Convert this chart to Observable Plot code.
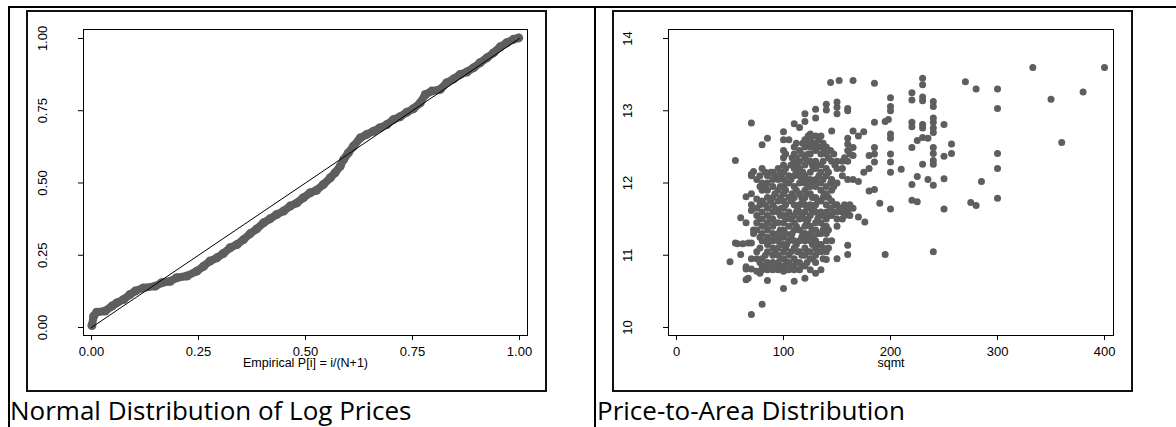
<!DOCTYPE html>
<html>
<head>
<meta charset="utf-8">
<script src="https://cdn.jsdelivr.net/npm/d3@7"></script>
<script src="https://cdn.jsdelivr.net/npm/@observablehq/plot@0.6"></script>
<style>
  html, body { margin: 0; padding: 0; background: #fff; }
  body { width: 1176px; height: 427px; position: relative; overflow: hidden; }
  .rule { position: absolute; background: #000; }
  .box { position: absolute; border: 2px solid #111; box-sizing: border-box; pointer-events: none; }
  .chart { position: absolute; }
  .caption { position: absolute; font-family: "Open Sans", sans-serif; font-size: 26px; line-height: 26px; color: #000; white-space: nowrap; }
</style>
</head>
<body>
<div class="rule" style="left:8px; top:6px; width:1168px; height:2px;"></div>
<div class="rule" style="left:8px; top:6px; width:2px; height:421px;"></div>
<div class="rule" style="left:594px; top:6px; width:2px; height:421px;"></div>
<div id="c1" class="chart" style="left:26px; top:10px;"></div>
<div id="c2" class="chart" style="left:612px; top:10px;"></div>
<div class="box" style="left:26px; top:10px; width:521px; height:382px;"></div>
<div class="box" style="left:612px; top:10px; width:521px; height:382px;"></div>
<div class="caption" style="left:10px; top:397px;">Normal Distribution of Log Prices</div>
<div class="caption" style="left:597px; top:397px;">Price-to-Area Distribution</div>
<script>
// ---- Chart 1: P-P plot (standardized normal probability) ----
const ppEmpirical = [0.001,0.005,0.012,0.032,0.048,0.059,0.075,0.090,0.102,0.121,0.149,0.164,0.184,0.199,0.223,0.246,0.262,0.277,0.293,0.308,0.324,0.340,0.355,0.371,0.386,0.402,0.417,0.433,0.449,0.464,0.480,0.495,0.511,0.526,0.542,0.558,0.569,0.581,0.589,0.600,0.612,0.628,0.643,0.659,0.674,0.690,0.706,0.721,0.737,0.752,0.768,0.780,0.795,0.815,0.830,0.846,0.861,0.877,0.893,0.908,0.924,0.939,0.955,0.970,0.986,0.998];
const ppNormal = [0.007,0.039,0.053,0.057,0.074,0.085,0.097,0.114,0.126,0.137,0.143,0.155,0.160,0.172,0.178,0.195,0.212,0.230,0.241,0.256,0.276,0.287,0.304,0.325,0.341,0.362,0.376,0.391,0.403,0.420,0.431,0.449,0.466,0.475,0.495,0.518,0.535,0.558,0.581,0.604,0.627,0.656,0.668,0.679,0.691,0.702,0.720,0.729,0.745,0.757,0.777,0.806,0.818,0.824,0.847,0.860,0.875,0.884,0.899,0.916,0.933,0.950,0.971,0.985,0.997,1.002];
const ppTicks = [0, 0.25, 0.5, 0.75, 1];
const ppRef = [0, 1];
const ppXLabel = "Empirical P[i] = i/(N+1)";

// ---- Chart 2: scatter of log price vs sqmt ----
const areaValues = [50,55,57,60,62,65,67,70,72,75,78,80,83,85,88,90,92,95,97,98,100,102,103,105,107,108,110,112,113,115,117,118,120,122,123,125,127,128,130,132,133,135,137,138,140,142,144,145,147,148,150,152,155,157,160,162,165,170,175,176,180,185,190,195,198,200,210,220,225,230,235,240,250,257,270,275,280,285,300,333,350,360,380,400];
const logPriceByArea = [
  [10.91],
  [12.31, 11.17],
  [11.16],
  [11.52, 11.01],
  [11.16],
  [11.81, 11.45, 10.81, 10.66, 10.84],
  [11.17, 10.68],
  [12.83, 12.12, 12.10, 11.85, 11.70, 11.62, 11.17, 10.95, 10.81, 10.18],
  [12.16, 11.35, 11.30],
  [12.05, 11.78, 11.65, 11.55, 11.45, 11.35, 11.05, 10.95, 10.78],
  [12.10, 11.95, 11.70, 11.50, 11.25, 11.10, 10.90, 10.75],
  [12.53, 12.20, 12.00, 11.90, 11.75, 11.60, 11.50, 11.40, 11.30, 11.20, 10.95, 10.85, 10.80, 10.32],
  [12.15, 11.95, 11.70, 11.40, 11.20, 11.00, 10.85],
  [12.62, 12.10, 12.00, 11.90, 11.80, 11.65, 11.55, 11.45, 11.35, 11.25, 11.15, 11.05, 10.90, 10.80, 10.65],
  [12.15, 11.75, 11.50, 11.20, 10.88],
  [12.15, 12.05, 11.95, 11.80, 11.70, 11.60, 11.50, 11.40, 11.30, 11.20, 11.10, 11.00, 10.90, 10.80],
  [12.10, 11.85, 11.65, 11.45, 11.25, 11.05, 10.85],
  [12.20, 12.05, 11.90, 11.75, 11.60, 11.45, 11.30, 11.20, 11.10, 11.00, 10.90, 10.80],
  [12.15, 11.95, 11.80, 11.55, 11.35, 11.15, 10.85],
  [12.10, 11.65, 11.25, 10.95],
  [12.71, 12.60, 12.45, 12.35, 12.25, 12.15, 12.05, 11.95, 11.85, 11.75, 11.65, 11.55, 11.45, 11.35, 11.25, 11.15, 11.05, 10.95, 10.85, 10.78, 10.54],
  [12.40, 12.20, 11.90, 11.70, 11.50, 11.30, 11.10, 10.80],
  [12.00, 11.55, 11.15, 10.90],
  [12.60, 12.10, 12.00, 11.80, 11.60, 11.40, 11.20, 11.00, 10.90, 10.80],
  [12.25, 12.05, 11.75, 11.50, 11.25, 11.05, 10.85],
  [12.35, 11.85, 11.30],
  [12.82, 12.50, 12.40, 12.30, 12.20, 12.10, 11.95, 11.80, 11.70, 11.55, 11.45, 11.35, 11.20, 11.10, 10.95, 10.85, 10.80, 10.64],
  [12.55, 12.35, 12.15, 11.90, 11.60, 11.40, 11.15, 10.90],
  [12.25, 11.65, 11.05],
  [12.77, 12.45, 12.30, 12.20, 12.10, 12.00, 11.85, 11.70, 11.60, 11.50, 11.35, 11.20, 11.05, 10.90, 10.80],
  [12.40, 12.05, 11.80, 11.55, 11.25, 11.00, 10.85],
  [12.55, 12.15, 11.75, 11.30],
  [12.96, 12.85, 12.60, 12.50, 12.35, 12.25, 12.10, 12.00, 11.90, 11.80, 11.70, 11.60, 11.50, 11.40, 11.30, 11.20, 11.10, 11.00, 10.85, 10.68],
  [12.55, 12.30, 12.05, 11.85, 11.65, 11.45, 11.25, 11.05, 10.90],
  [12.65, 12.40, 11.95, 11.50, 11.05],
  [12.68, 12.60, 12.50, 12.40, 12.30, 12.15, 12.05, 11.95, 11.85, 11.70, 11.55, 11.40, 11.30, 11.20, 11.05, 10.95, 10.80],
  [12.50, 12.25, 12.00, 11.80, 11.60, 11.35, 11.15, 10.95],
  [12.55, 12.20, 11.65, 11.25],
  [13.02, 12.90, 12.65, 12.55, 12.45, 12.30, 12.20, 12.05, 11.95, 11.80, 11.70, 11.60, 11.45, 11.35, 11.20, 11.10, 11.00, 10.90, 10.75],
  [12.50, 12.25, 12.00, 11.75, 11.50, 11.30, 11.05],
  [12.60, 12.10, 11.55, 11.15],
  [12.65, 12.50, 12.40, 12.25, 12.15, 12.00, 11.90, 11.75, 11.60, 11.45, 11.30, 11.15, 11.05, 10.80],
  [12.55, 12.30, 12.05, 11.80, 11.55, 11.35, 11.10, 10.95],
  [12.45, 11.85, 11.40],
  [13.09, 13.01, 12.50, 12.40, 12.20, 12.10, 11.95, 11.85, 11.70, 11.60, 11.50, 11.40, 11.30, 11.20, 11.05, 10.94],
  [12.35, 12.15, 11.80, 11.55, 11.35, 11.10],
  [13.39, 12.45, 12.00, 11.65],
  [12.72, 12.30, 12.05, 11.90, 11.75, 11.55, 11.20],
  [12.40, 11.95, 11.60],
  [12.25, 11.70],
  [13.12, 13.05, 12.96, 12.30, 12.20, 12.00, 11.70, 11.60, 11.50, 11.40, 10.95],
  [13.42, 11.65],
  [12.30, 12.20, 12.10, 11.65, 11.60, 11.50],
  [12.35, 11.70, 11.55],
  [13.03, 13.00, 12.62, 12.54, 12.45, 12.30, 12.05, 11.65, 11.60, 11.14, 11.01],
  [12.40, 11.70, 11.55],
  [13.42, 12.72, 12.49, 12.38, 12.05, 11.65],
  [12.65, 12.02, 11.53],
  [12.71, 12.15],
  [11.46],
  [12.38, 12.20, 11.89],
  [13.38, 12.84, 12.49, 12.40, 12.29, 11.91],
  [11.72],
  [12.85, 11.01],
  [12.88],
  [13.18, 13.06, 13.00, 12.68, 12.62, 12.40, 12.29, 12.15, 11.64],
  [12.19],
  [13.25, 13.15, 12.84, 12.78, 12.49, 11.98, 11.76],
  [12.59, 12.09, 11.74],
  [13.45, 13.36, 13.19, 13.14, 12.81, 12.76, 12.63, 12.26],
  [12.62, 12.05],
  [13.13, 13.06, 12.90, 12.84, 12.76, 12.70, 12.49, 12.41, 12.31, 12.26, 11.97, 11.05],
  [12.81, 12.37, 12.06, 11.64],
  [12.54, 12.41],
  [13.40],
  [11.73],
  [13.30, 11.69],
  [12.02],
  [13.30, 13.03, 12.41, 12.20, 11.79],
  [13.60],
  [13.16],
  [12.56],
  [13.26],
  [13.60]
];
const areaTicks = [0, 100, 200, 300, 400];
const priceTicks = [10, 11, 12, 13, 14];
const areaLabel = "sqmt";

const dotColor = "#5e5e5e";
const baseStyle = {fontFamily: "'Liberation Sans', Arial, sans-serif", fontSize: "13px", color: "#000", background: "transparent", overflow: "visible"};

const ppData = ppEmpirical.map((x, i) => ({x, y: ppNormal[i]}));

const chart1 = Plot.plot({
  width: 521, height: 382,
  marginLeft: 57, marginRight: 20, marginTop: 19, marginBottom: 57,
  style: baseStyle,
  x: {domain: [-0.0187, 1.0187]},
  y: {domain: [-0.0277, 1.031]},
  marks: [
    Plot.frame({stroke: "#000", strokeWidth: 1}),
    Plot.line(ppData, {x: "x", y: "y", stroke: dotColor, strokeWidth: 8, strokeLinecap: "round", strokeLinejoin: "round"}),
    Plot.dot(ppData, {x: "x", y: "y", r: 4.5, fill: dotColor, stroke: "none"}),
    Plot.line(ppRef.map(v => ({x: v, y: v})), {x: "x", y: "y", stroke: "#000", strokeWidth: 1}),
    Plot.axisX({ticks: ppTicks, tickFormat: ".2f", tickSize: 5, tickPadding: 6, label: null, fontSize: 13}),
    Plot.axisY({ticks: ppTicks, tickFormat: ".2f", tickSize: 5, tickRotate: -90, tickPadding: 32, label: null, fontSize: 13}),
    Plot.text([ppXLabel], {frameAnchor: "bottom", dy: 23, lineAnchor: "top", fontSize: 12.5})
  ]
});
document.getElementById("c1").appendChild(chart1);

const scatterData = [];
areaValues.forEach((a, i) => logPriceByArea[i].forEach(p => scatterData.push({sqmt: a, lp: p})));

const chart2 = Plot.plot({
  width: 521, height: 382,
  marginLeft: 56, marginRight: 20, marginTop: 19, marginBottom: 57,
  style: baseStyle,
  x: {domain: [-7.48, 408.4]},
  y: {domain: [9.889, 14.125]},
  marks: [
    Plot.frame({stroke: "#000", strokeWidth: 1}),
    Plot.dot(scatterData, {x: "sqmt", y: "lp", r: 3.5, fill: dotColor, stroke: "none"}),
    Plot.axisX({ticks: areaTicks, tickFormat: "d", tickSize: 5, tickPadding: 6, label: null, fontSize: 13}),
    Plot.axisY({ticks: priceTicks, tickFormat: "d", tickSize: 5, tickRotate: -90, tickPadding: 32, label: null, fontSize: 13}),
    Plot.text([areaLabel], {frameAnchor: "bottom", dy: 23, lineAnchor: "top", fontSize: 12.5})
  ]
});
document.getElementById("c2").appendChild(chart2);
</script>
</body>
</html>
